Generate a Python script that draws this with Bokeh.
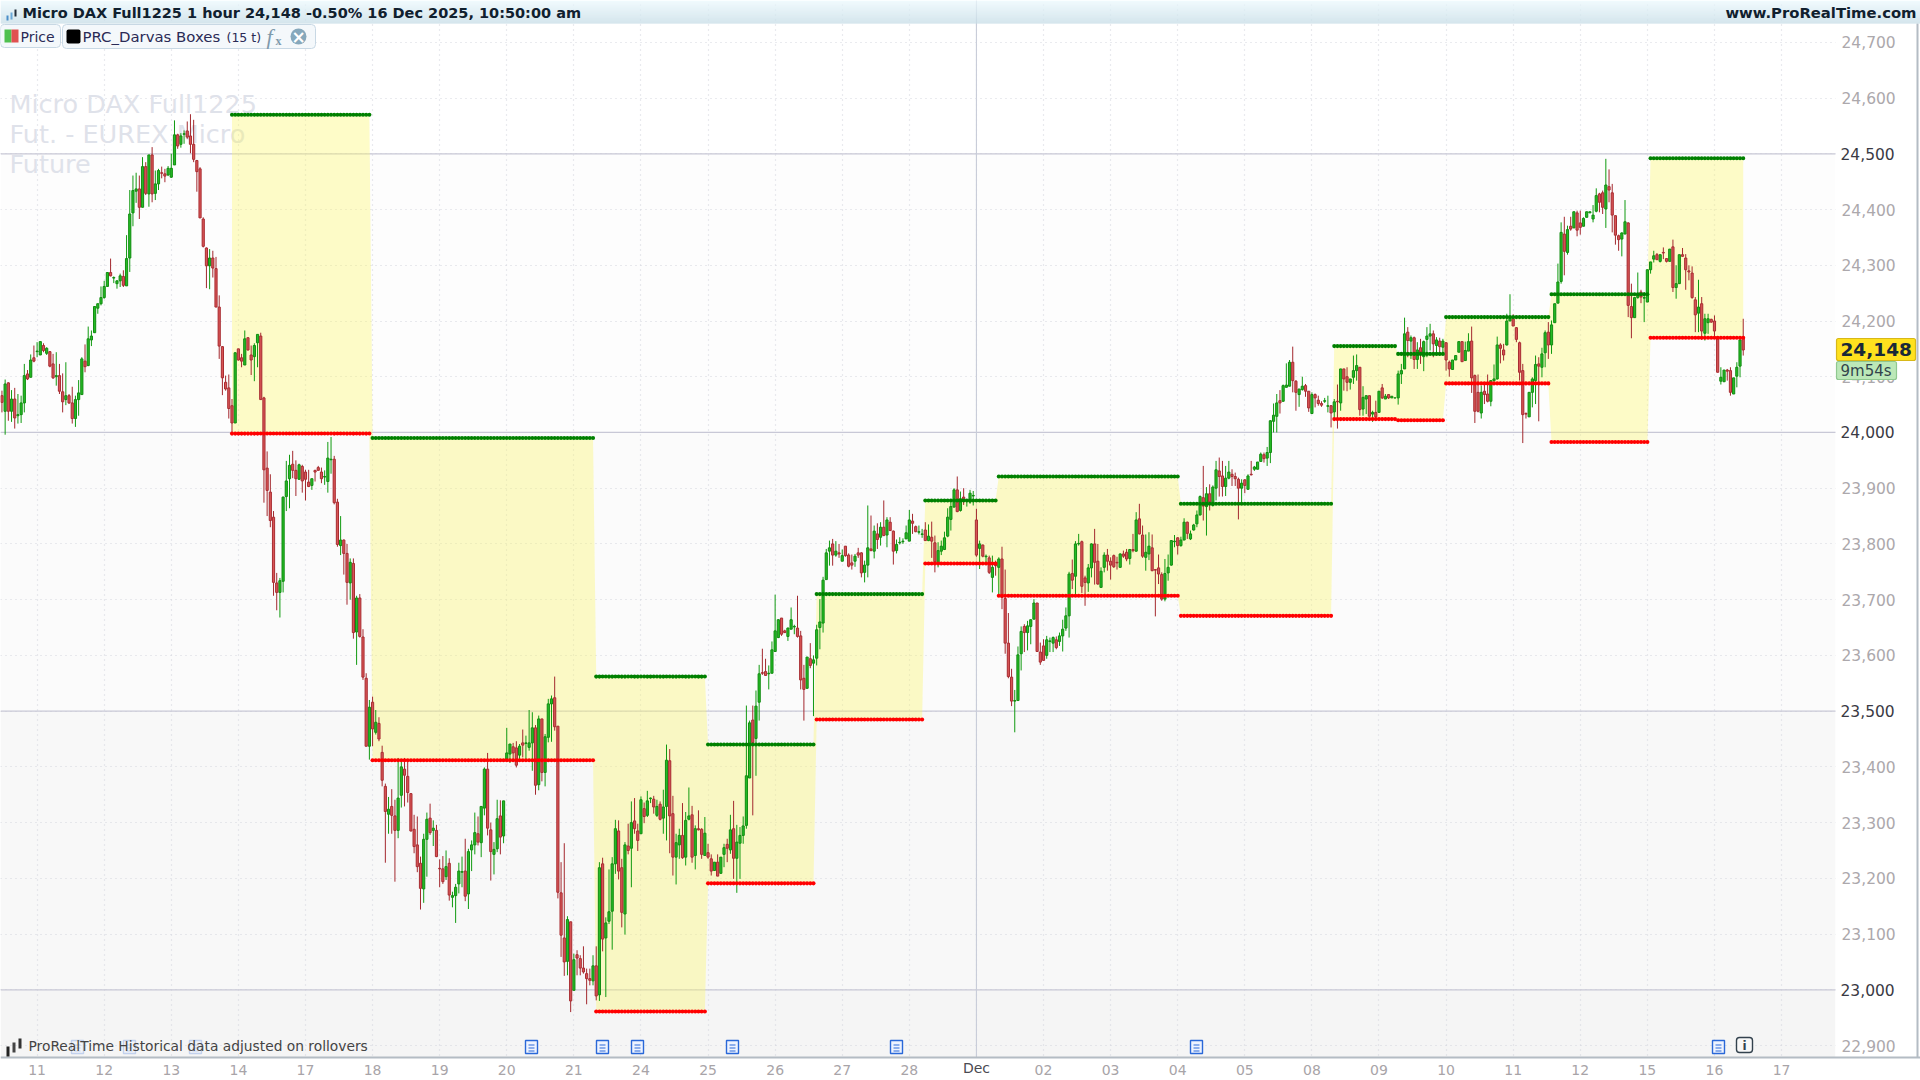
from bokeh.plotting import figure
from bokeh.models import (BoxAnnotation, FixedTicker, Label, Range1d, Span, ColumnDataSource)
from bokeh.embed import file_html
from bokeh.resources import INLINE

# ---------- data ----------
opens = [
24066,24038,24089,24038,24060,24030,24032,24053,24105,24099,24134,24145,24139,24156,24142,24145,24123,24100,24102,24073,
24059,24066,24053,24025,24059,24068,24128,24120,24166,24179,24223,24231,24242,24262,24287,24277,24267,24272,24280,24263,
24313,24394,24433,24437,24404,24477,24428,24498,24429,24446,24466,24464,24462,24458,24480,24534,24517,24535,24541,24532,
24517,24488,24473,24383,24331,24299,24313,24294,24225,24154,24090,24080,24048,24017,24150,24134,24121,24170,24139,24136,
24161,24173,24062,23936,23893,23848,23730,23713,23733,23885,23917,23943,23932,23916,23939,23929,23911,23905,23932,23937,
23929,23920,23912,23951,23952,23875,23797,23807,23783,23730,23765,23642,23703,23633,23559,23437,23516,23462,23478,23426,
23365,23315,23329,23312,23286,23349,23396,23383,23352,23288,23260,23227,23181,23270,23308,23286,23286,23218,23217,23203,
23227,23166,23169,23190,23211,23213,23172,23251,23260,23280,23264,23326,23396,23287,23243,23253,23312,23276,23414,23423,
23436,23434,23421,23443,23442,23435,23443,23470,23368,23486,23390,23453,23513,23524,23473,23174,23093,23051,23122,22999,
23063,23056,23039,23029,23020,23016,23043,22991,23226,23093,23123,23141,23226,23285,23219,23136,23258,23254,23303,23285,
23280,23325,23313,23343,23342,23313,23333,23308,23329,23411,23316,23238,23260,23277,23238,23306,23314,23241,23289,23288,
23241,23246,23235,23214,23229,23209,23243,23261,23251,23289,23236,23263,23277,23295,23380,23484,23451,23516,23569,23571,
23567,23568,23607,23632,23667,23644,23634,23647,23651,23649,23635,23559,23541,23594,23586,23595,23650,23658,23736,23787,
23800,23780,23784,23769,23796,23780,23766,23769,23784,23784,23749,23762,23791,23787,23818,23812,23830,23816,23839,23823,
23788,23802,23804,23809,23805,23841,23831,23821,23817,23825,23806,23812,23802,23765,23787,23790,23814,23844,23866,23897,
23860,23884,23878,23875,23886,23843,23792,23798,23777,23775,23740,23762,23758,23773,23702,23622,23561,23518,23519,23603,
23652,23641,23652,23665,23694,23606,23617,23600,23625,23622,23628,23625,23635,23649,23671,23747,23742,23800,23804,23739,
23730,23757,23800,23769,23722,23758,23780,23769,23779,23767,23758,23782,23785,23774,23790,23787,23845,23816,23776,23782,
23793,23754,23757,23745,23701,23748,23762,23804,23811,23797,23807,23839,23809,23825,23836,23852,23883,23867,23890,23869,
23900,23931,23922,23903,23918,23925,23921,23916,23900,23915,23898,23925,23934,23934,23948,23960,23954,23964,24020,24029,
24057,24056,24081,24083,24126,24092,24068,24077,24084,24074,24034,24068,24058,24052,24056,24047,24048,24037,24056,24053,
24114,24100,24090,24099,24111,24117,24042,24060,24066,24033,24036,24036,24080,24060,24068,24062,24062,24062,24105,24114,
24180,24164,24170,24131,24152,24136,24167,24173,24177,24156,24164,24153,24161,24126,24113,24130,24144,24163,24129,24146,
24164,24102,24072,24035,24074,24069,24056,24093,24096,24157,24148,24157,24200,24204,24188,24161,24111,24034,24028,24072,
24093,24123,24117,24143,24180,24157,24197,24232,24271,24356,24323,24370,24367,24394,24376,24370,24386,24394,24383,24397,
24428,24430,24401,24441,24430,24389,24353,24347,24356,24376,24226,24206,24242,24252,24241,24234,24292,24311,24319,24307,
24323,24312,24307,24333,24260,24267,24319,24313,24290,24286,24238,24214,24231,24178,24197,24203,24200,24171,24092,24091,
24112,24111,24069,24101,24119,24171]
highs = [
24075,24095,24090,24076,24080,24069,24066,24123,24112,24140,24156,24162,24163,24160,24153,24146,24141,24144,24123,24106,
24126,24069,24082,24066,24094,24135,24158,24190,24183,24226,24231,24262,24272,24287,24312,24280,24273,24285,24291,24354,
24435,24461,24466,24461,24494,24485,24498,24512,24470,24473,24477,24473,24478,24500,24560,24536,24537,24542,24558,24571,
24561,24489,24476,24386,24332,24329,24326,24315,24246,24155,24102,24104,24060,24144,24150,24141,24183,24171,24156,24160,
24176,24179,24064,23966,23925,23859,23748,23739,23885,23949,23960,23967,23950,23944,23942,23933,23933,23917,23933,23940,
23937,23932,23983,23992,23958,23881,23850,23808,23800,23774,23774,23707,23710,23647,23568,23520,23526,23502,23489,23438,
23370,23346,23360,23341,23416,23410,23416,23411,23353,23314,23311,23239,23280,23318,23334,23304,23296,23234,23240,23250,
23236,23176,23190,23228,23239,23271,23253,23268,23318,23311,23329,23399,23425,23300,23265,23341,23340,23339,23470,23441,
23443,23446,23441,23467,23456,23502,23498,23475,23492,23486,23459,23522,23528,23562,23473,23229,23263,23132,23122,23065,
23071,23062,23078,23038,23038,23062,23078,23229,23237,23130,23216,23238,23305,23304,23235,23265,23298,23338,23344,23298,
23347,23336,23357,23345,23348,23341,23338,23359,23440,23432,23348,23280,23289,23335,23319,23363,23330,23295,23322,23290,
23310,23262,23243,23229,23243,23238,23262,23271,23314,23339,23296,23292,23311,23510,23483,23510,23537,23583,23612,23594,
23582,23625,23709,23665,23667,23646,23650,23686,23655,23707,23644,23583,23597,23622,23600,23655,23701,23741,23791,23806,
23809,23805,23800,23790,23796,23783,23781,23782,23793,23785,23770,23869,23851,23833,23837,23839,23878,23848,23848,23824,
23808,23812,23810,23833,23861,23854,23833,23833,23827,23839,23835,23840,23815,23803,23806,23822,23864,23875,23900,23921,
23894,23900,23880,23897,23895,23863,23806,23799,23781,23779,23779,23770,23776,23795,23754,23676,23576,23538,23616,23652,
23656,23662,23664,23701,23694,23623,23629,23635,23632,23634,23634,23641,23664,23686,23750,23772,23805,23818,23806,23743,
23764,23801,23827,23800,23758,23785,23791,23776,23781,23777,23783,23788,23791,23791,23818,23857,23872,23833,23817,23821,
23817,23755,23781,23749,23773,23781,23807,23816,23812,23813,23846,23840,23824,23836,23860,23887,23940,23902,23907,23905,
23949,23955,23949,23940,23949,23934,23928,23919,23916,23916,23925,23949,23940,23947,23964,23964,23974,24022,24052,24069,
24076,24086,24124,24130,24154,24094,24078,24100,24087,24074,24072,24070,24066,24056,24062,24066,24049,24060,24086,24114,
24114,24117,24096,24138,24140,24117,24083,24066,24066,24039,24057,24074,24087,24069,24068,24065,24062,24111,24123,24206,
24189,24174,24172,24162,24168,24165,24189,24195,24183,24171,24170,24168,24162,24129,24130,24138,24163,24163,24163,24178,
24190,24104,24104,24084,24087,24104,24094,24122,24172,24160,24159,24213,24248,24212,24189,24163,24123,24036,24072,24099,
24138,24135,24152,24183,24198,24201,24231,24303,24377,24387,24371,24387,24396,24398,24398,24386,24396,24396,24408,24438,
24430,24434,24491,24472,24446,24389,24355,24359,24417,24377,24267,24242,24287,24256,24252,24292,24306,24326,24322,24319,
24332,24312,24329,24346,24300,24319,24331,24320,24300,24298,24243,24274,24243,24213,24213,24204,24210,24171,24117,24112,
24114,24117,24098,24126,24171,24204]
lows = [
24036,23996,24021,24019,24007,24016,24017,24036,24094,24099,24126,24135,24139,24144,24139,24117,24096,24084,24069,24036,
24049,24051,24016,24010,24030,24068,24108,24119,24155,24179,24213,24228,24240,24261,24280,24268,24258,24261,24261,24263,
24288,24370,24412,24383,24404,24426,24405,24413,24417,24435,24456,24449,24460,24457,24480,24509,24511,24518,24527,24501,
24485,24432,24385,24332,24259,24257,24278,24225,24132,24067,24075,24025,23998,24017,24129,24117,24121,24147,24103,24092,
24117,24059,23874,23850,23830,23707,23681,23668,23713,23859,23864,23918,23886,23915,23892,23878,23902,23897,23912,23932,
23909,23906,23892,23926,23871,23795,23780,23745,23691,23700,23630,23583,23632,23556,23437,23413,23437,23458,23446,23365,
23228,23280,23280,23194,23272,23327,23329,23336,23284,23245,23211,23144,23156,23203,23278,23258,23238,23184,23190,23197,
23160,23148,23120,23173,23184,23159,23145,23213,23243,23259,23238,23313,23277,23196,23207,23247,23243,23263,23411,23407,
23414,23399,23414,23417,23414,23429,23393,23350,23358,23374,23365,23444,23445,23465,23164,23059,23025,23026,22960,22999,
23026,23026,23029,22974,23008,23008,22981,22980,23069,22987,23118,23072,23208,23198,23112,23099,23243,23184,23280,23249,
23280,23299,23310,23335,23316,23310,23304,23280,23268,23245,23205,23189,23235,23235,23223,23304,23228,23216,23286,23235,
23241,23235,23205,23214,23204,23208,23220,23229,23244,23199,23174,23199,23262,23289,23380,23313,23384,23483,23565,23564,
23539,23568,23607,23631,23635,23640,23626,23647,23638,23632,23539,23483,23540,23577,23491,23582,23611,23641,23736,23761,
23761,23777,23775,23769,23777,23758,23754,23759,23775,23740,23731,23740,23787,23774,23791,23797,23814,23794,23824,23763,
23783,23799,23800,23809,23805,23818,23821,23817,23811,23806,23805,23775,23749,23758,23780,23789,23812,23824,23866,23857,
23858,23870,23867,23872,23869,23777,23755,23776,23762,23746,23713,23743,23710,23683,23603,23559,23509,23462,23519,23573,
23606,23609,23620,23665,23607,23583,23591,23594,23606,23606,23611,23617,23607,23644,23632,23719,23707,23797,23712,23689,
23714,23740,23727,23727,23722,23749,23752,23736,23757,23754,23757,23775,23769,23763,23785,23786,23817,23775,23752,23771,
23751,23670,23728,23698,23697,23734,23761,23794,23781,23795,23807,23809,23807,23824,23830,23851,23842,23815,23860,23867,
23878,23885,23885,23886,23916,23904,23904,23844,23875,23891,23898,23923,23931,23934,23948,23946,23940,23945,24000,24000,
24034,24055,24081,24083,24072,24039,24046,24075,24064,24037,24033,24045,24048,24046,24053,24036,24009,24022,24007,24039,
24075,24074,24077,24087,24093,24030,24030,24033,24029,24019,24022,24036,24060,24060,24060,24062,24062,24050,24087,24114,
24135,24132,24114,24114,24123,24110,24135,24147,24135,24138,24138,24140,24111,24100,24113,24130,24144,24127,24129,24146,
24071,24017,24036,24025,24051,24054,24047,24091,24095,24124,24129,24156,24200,24191,24162,24093,23981,24025,24028,24045,
24051,24020,24099,24117,24132,24141,24197,24232,24267,24282,24319,24362,24367,24352,24355,24370,24386,24394,24377,24395,
24395,24392,24367,24413,24359,24337,24326,24316,24356,24207,24169,24206,24240,24232,24198,24234,24285,24305,24310,24305,
24311,24305,24307,24252,24240,24267,24316,24256,24273,24240,24180,24180,24166,24165,24177,24197,24171,24108,24086,24091,
24093,24066,24069,24081,24099,24138]
closes = [
24054,24087,24038,24060,24026,24032,24053,24102,24096,24130,24128,24146,24163,24147,24151,24119,24098,24102,24074,24055,
24066,24053,24025,24059,24071,24132,24118,24168,24173,24226,24231,24242,24262,24287,24281,24278,24272,24281,24264,24312,
24392,24434,24437,24404,24477,24429,24498,24428,24446,24470,24465,24460,24474,24474,24534,24514,24532,24536,24530,24517,
24490,24468,24385,24334,24299,24313,24295,24225,24155,24098,24078,24043,24017,24143,24130,24128,24168,24148,24130,24156,
24176,24059,23933,23896,23842,23731,23713,23734,23884,23913,23941,23932,23917,23942,23913,23916,23903,23917,23929,23932,
23917,23921,23954,23952,23874,23799,23807,23783,23731,23767,23641,23703,23634,23561,23437,23507,23468,23480,23450,23376,
23320,23324,23313,23286,23344,23400,23385,23354,23285,23257,23221,23182,23270,23306,23282,23290,23239,23217,23194,23221,
23170,23169,23184,23213,23212,23168,23248,23260,23282,23265,23329,23396,23290,23248,23252,23307,23274,23339,23425,23441,
23425,23403,23437,23439,23443,23443,23470,23367,23486,23390,23454,23513,23522,23472,23175,23098,23050,23126,22980,23054,
23057,23039,23032,23020,23017,23043,22989,23219,23091,23120,23140,23226,23289,23213,23139,23260,23250,23300,23289,23268,
23341,23311,23339,23344,23328,23329,23306,23328,23412,23312,23238,23264,23277,23237,23304,23312,23238,23289,23287,23243,
23281,23238,23213,23229,23204,23238,23255,23254,23287,23236,23265,23277,23294,23384,23479,23443,23509,23567,23568,23564,
23568,23610,23644,23664,23638,23641,23649,23664,23652,23634,23556,23539,23597,23582,23592,23646,23660,23735,23784,23793,
23780,23787,23782,23779,23779,23760,23762,23778,23780,23748,23762,23793,23788,23823,23808,23830,23815,23843,23824,23787,
23799,23803,23805,23820,23843,23837,23822,23822,23818,23806,23814,23805,23768,23788,23796,23811,23848,23867,23897,23858,
23881,23878,23879,23891,23887,23780,23800,23778,23778,23749,23758,23761,23773,23704,23622,23562,23518,23519,23601,23643,
23641,23653,23664,23694,23607,23588,23591,23628,23626,23632,23614,23635,23647,23671,23746,23735,23800,23801,23724,23731,
23757,23800,23767,23728,23751,23780,23769,23762,23759,23766,23782,23778,23773,23790,23788,23843,23818,23778,23785,23796,
23752,23753,23746,23701,23747,23758,23806,23805,23797,23807,23839,23819,23818,23834,23852,23885,23868,23890,23875,23902,
23933,23921,23903,23918,23929,23921,23917,23900,23909,23905,23922,23924,23938,23947,23961,23953,23964,24021,24031,24053,
24053,24084,24085,24126,24093,24072,24078,24083,24074,24044,24068,24062,24052,24049,24057,24048,24035,24055,24055,24114,
24096,24090,24096,24111,24120,24041,24063,24066,24029,24036,24028,24074,24062,24065,24062,24065,24062,24105,24111,24177,
24165,24170,24131,24148,24144,24163,24173,24177,24159,24166,24154,24164,24130,24114,24130,24138,24163,24127,24147,24163,
24098,24038,24038,24072,24068,24056,24093,24096,24157,24151,24139,24200,24207,24191,24167,24108,24032,24033,24072,24096,
24122,24119,24141,24179,24157,24193,24231,24270,24359,24325,24364,24365,24396,24363,24368,24384,24396,24396,24390,24425,
24413,24404,24444,24435,24390,24354,24346,24358,24378,24228,24206,24242,24246,24243,24242,24292,24306,24317,24310,24319,
24322,24307,24329,24260,24267,24319,24316,24292,24288,24242,24211,24225,24182,24204,24204,24198,24182,24108,24099,24112,
24110,24072,24098,24117,24166,24148]

box_start = [72,116,186,221,255,289,312,369,417,437,452,485,516]
box_top = [24570,23990,23562,23440,23710,23878,23921,23872,24155,24141,24207,24248,24492]
box_bottom = [23998,23412,22961,23191,23485,23765,23707,23671,24024,24022,24088,23983,24170]

price_ticks = list(range(22900, 24701, 100))
major_prices = [23000, 23500, 24000, 24500]
date_labels = ["11","12","13","14","17","18","19","20","21","24","25","26","27","28","Dec",
               "02","03","04","05","08","09","10","11","12","15","16","17"]
doc_icon_x = [531, 602, 637, 732, 896, 1196, 1718]
faded_doc_icon_x = [77, 129, 195]

assert len(opens) == len(highs) == len(lows) == len(closes) == 546, (len(opens), len(highs), len(lows), len(closes))

W, H = 1920, 1080
FRAME_R, FRAME_T, FRAME_B = 1835, 23, 1057
BAR_PX = 3.195
PX_PER_PT = 836 / 1500

def price_at(y):
    return 24500 - (y - 153.3) / PX_PER_PT

def bar_at(x):
    return (x - 1.45) / BAR_PX

# the frame fills the page; both axes sit at fixed places inside it
p = figure(width=W, height=H, output_backend="svg", toolbar_location=None,
           x_range=Range1d(bar_at(0), bar_at(W)), y_range=Range1d(price_at(H), price_at(0)),
           y_axis_location="right", min_border_left=0, min_border_right=0,
           min_border_top=0, min_border_bottom=0, outline_line_color=None,
           background_fill_color="#ffffff", border_fill_color="#ffffff")

# background bands
band_edges = [price_at(FRAME_T), 24500, 24000, 23500, 23000, price_at(FRAME_B)]
band_cols = ["#ffffff", "#fdfdfd", "#fbfbfb", "#f8f8f8", "#f5f5f5"]
p.quad(left=bar_at(0), right=bar_at(FRAME_R), top=band_edges[:-1], bottom=band_edges[1:], fill_color=band_cols,
       line_color=None, level="image")

# grids
tick_bars = [11 + 21 * k for k in range(len(date_labels))]
GRID = "#d4d6de"
p.xgrid.ticker = FixedTicker(ticks=tick_bars)
p.ygrid.ticker = FixedTicker(ticks=price_ticks)
for g in (p.xgrid, p.ygrid):
    g.grid_line_color = GRID
    g.grid_line_dash = "1 4"
    g.grid_line_width = 1.2
for v in major_prices:
    p.add_layout(Span(location=v, dimension="width", line_color="#c8c8d6", line_width=1.3, level="underlay"))
p.add_layout(Span(location=tick_bars[date_labels.index("Dec")], dimension="height", line_color="#c8ccd8",
                  line_width=1.1, level="underlay"))

# watermark
WM = "#dfe2ea"
for txt, yy in (("Micro DAX Full1225", 103), ("Fut. - EUREX Micro", 133), ("Future", 163)):
    p.add_layout(Label(x=9, y=yy, x_units="canvas", y_units="canvas", text=txt, text_font="DejaVu Sans",
                       text_font_size="25.5px", text_color=WM, text_baseline="middle", level="underlay"))


def mask(l, t, r, b):
    p.add_layout(BoxAnnotation(left=l, right=r, top=t, bottom=b, left_units="canvas", right_units="canvas",
                               top_units="canvas", bottom_units="canvas", fill_color="#ffffff", fill_alpha=1,
                               line_color=None, level="glyph"))


# grid lines stop at the edges of the price area
mask(FRAME_R, 0, W, H)
mask(0, FRAME_B, W, H)

# darvas fill
fx, ft, fb = [], [], []
for k, s in enumerate(box_start):
    e = box_start[k + 1] if k + 1 < len(box_start) else len(opens)
    for i in range(s, e):
        fx.append(i); ft.append(box_top[k]); fb.append(box_bottom[k])
p.varea(x=fx, y1=ft, y2=fb, fill_color="#fdf866", fill_alpha=0.36)

# candles
bars = list(range(len(opens)))
up = [c >= o for o, c in zip(opens, closes)]
for flag, wick, fill, edge in ((True, "#109a10", "#25bb25", "#118c11"), (False, "#a3282e", "#d85555", "#a82c32")):
    idx = [i for i in bars if up[i] == flag]
    src = ColumnDataSource(dict(x=idx, o=[opens[i] for i in idx], h=[highs[i] for i in idx],
                                l=[lows[i] for i in idx], c=[closes[i] for i in idx]))
    p.segment(x0="x", x1="x", y0="l", y1="h", source=src, line_color=wick, line_width=1)
    p.vbar(x="x", width=0.68, top="o", bottom="c", source=src, fill_color=fill, line_color=edge, line_width=1)

# darvas dots
tx, ty, bx, by = [], [], [], []
for k, s in enumerate(box_start):
    e = box_start[k + 1] if k + 1 < len(box_start) else len(opens)
    rng = range(s, e)
    tx += list(rng); ty += [box_top[k]] * len(rng)
    bx += list(rng); by += [box_bottom[k]] * len(rng)
p.scatter(tx, ty, marker="circle", size=4.1, fill_color="#008000", line_color=None)
p.scatter(bx, by, marker="circle", size=4.1, fill_color="#ff0000", line_color=None)

# axes
xa = p.below[0]
xa.fixed_location = price_at(FRAME_B)
xa.ticker = FixedTicker(ticks=tick_bars)
xa.major_label_overrides = {t: ("" if l == "Dec" else l) for t, l in zip(tick_bars, date_labels)}
xa.axis_line_color = None
xa.major_tick_line_color = None
xa.minor_tick_line_color = None
xa.major_label_text_font = "DejaVu Sans"
xa.major_label_text_font_size = "14px"
xa.major_label_text_color = "#a8a4a8"
xa.major_label_standoff = 1

ya = p.right[0]
ya.fixed_location = bar_at(FRAME_R)
ya.ticker = FixedTicker(ticks=price_ticks)
ya.major_label_overrides = {t: ("" if t in major_prices else f"{t:,}") for t in price_ticks}
ya.axis_line_color = None
ya.major_tick_line_color = None
ya.minor_tick_line_color = None
ya.major_label_text_font = "DejaVu Sans"
ya.major_label_text_font_size = "15.5px"
ya.major_label_text_color = "#aca8ac"
ya.major_label_standoff = 0


def box(l, t, r, b, fill=None, line=None, lw=1, radius=0, alpha=1.0):
    p.add_layout(BoxAnnotation(left=l, right=r, top=t, bottom=b, left_units="canvas", right_units="canvas",
                               top_units="canvas", bottom_units="canvas", fill_color=fill, fill_alpha=alpha,
                               line_color=line, line_alpha=alpha, line_width=lw, border_radius=radius,
                               level="overlay"))


def text(x, y, s, size, color, font="DejaVu Sans", style="normal", align="left"):
    p.add_layout(Label(x=x, y=y, x_units="canvas", y_units="canvas", text=s, text_font=font,
                       text_font_size=f"{size}px", text_color=color, text_font_style=style,
                       text_align=align, text_baseline="middle", level="overlay"))


# dark labels on the axes
for v in major_prices:
    p.add_layout(Label(x=1840, x_units="canvas", y=v, y_units="data", text=f"{v:,}", text_font="DejaVu Sans",
                       text_font_size="15.5px", text_color="#3a3a44", text_baseline="middle", level="overlay"))
text(976, 1067, "Dec", 14, "#4a4a52", align="center")

# frame edges
box(0, 1056, W, 1058, fill="#b4bcc4")
box(1916, 23, 1918, 1057, fill="#b4bcc4")

# title bar
top_rgb, bot_rgb = (236, 249, 253), (200, 222, 232)
for r in range(23):
    f = r / 22
    c = tuple(int(a + (b - a) * f) for a, b in zip(top_rgb, bot_rgb))
    box(0, r, W, r + 1, fill="#%02x%02x%02x" % c)
text(22, 12, "Micro DAX Full1225 1 hour 24,148 -0.50% 16 Dec 2025, 10:50:00 am", 14.5, "#10202e", style="bold")
text(1916, 12, "www.ProRealTime.com", 14.8, "#10202e", style="bold", align="right")
# title bar icon
for xx, y0, y1, col in ((6, 15, 20, "#4a8ec8"), (10, 12, 19, "#6aa8d8"), (14, 9, 16, "#222c38")):
    box(xx, y0, xx + 2, y1, fill=col)

# indicator pills
box(0, 24, 60, 47, fill="#f4f8fb", line="#c8d8e4", radius=4)
box(62, 24, 315, 48, fill="#f4f8fb", line="#c8d8e4", radius=4)
box(4, 29, 11, 42, fill="#4fc04f")
box(11, 29, 18, 42, fill="#e05050")
box(66, 29, 80, 43, fill="#000000", radius=2)
text(20, 36, "Price", 14, "#2a2a55")
text(82, 36, "PRC_Darvas Boxes", 14.9, "#2a2a55")
text(226, 37, "(15 t)", 12.5, "#2a2a55")
text(266, 36, "f", 22, "#7f9aac", font="Liberation Serif", style="italic")
text(275, 40, "x", 12, "#7f9aac", font="Liberation Serif", style="bold")
box(290, 28, 306, 44, fill="#86a8bc", radius=8)
text(298, 36, "\u00d7", 17, "#ffffff", style="bold", align="center")

# price badge
box(1836, 338, 1915, 360, fill="#ffe11e", line="#d8b818", lw=1.2, radius=2)
text(1840, 349, "24,148", 18.5, "#182838", style="bold")
box(1836, 361, 1896, 379, fill="#bce8b8", line="#90c890", lw=1.2, radius=2)
text(1840, 370, "9m54s", 15, "#33444c")


def doc_icon(cx, alpha=1.0):
    blue = "#2a68d8"
    box(cx - 6, 1040, cx + 6, 1053, fill="#eef3ff", line=blue, lw=1.4, alpha=alpha)
    for yy in (1044, 1047, 1050):
        box(cx - 3, yy, cx + 3, yy + 1, fill=blue, alpha=alpha)


for cx in faded_doc_icon_x:
    doc_icon(cx, alpha=0.25)
for cx in doc_icon_x:
    doc_icon(cx)

# info icon
box(1736, 1037, 1752, 1052, fill="#f8f8f8", line="#33424e", lw=1.4, radius=3)
text(1744, 1045, "i", 12, "#33424e", style="bold", align="center")

# bottom-left note
for xx, y0, y1, col in ((6, 1046, 1056, "#222222"), (12, 1042, 1052, "#444444"), (18, 1038, 1048, "#333333")):
    box(xx, y0, xx + 3, y1, fill=col)
text(28, 1045, "ProRealTime Historical data adjusted on rollovers", 13.8, "#444444")

open("out.html", "w").write(file_html(p, INLINE))
